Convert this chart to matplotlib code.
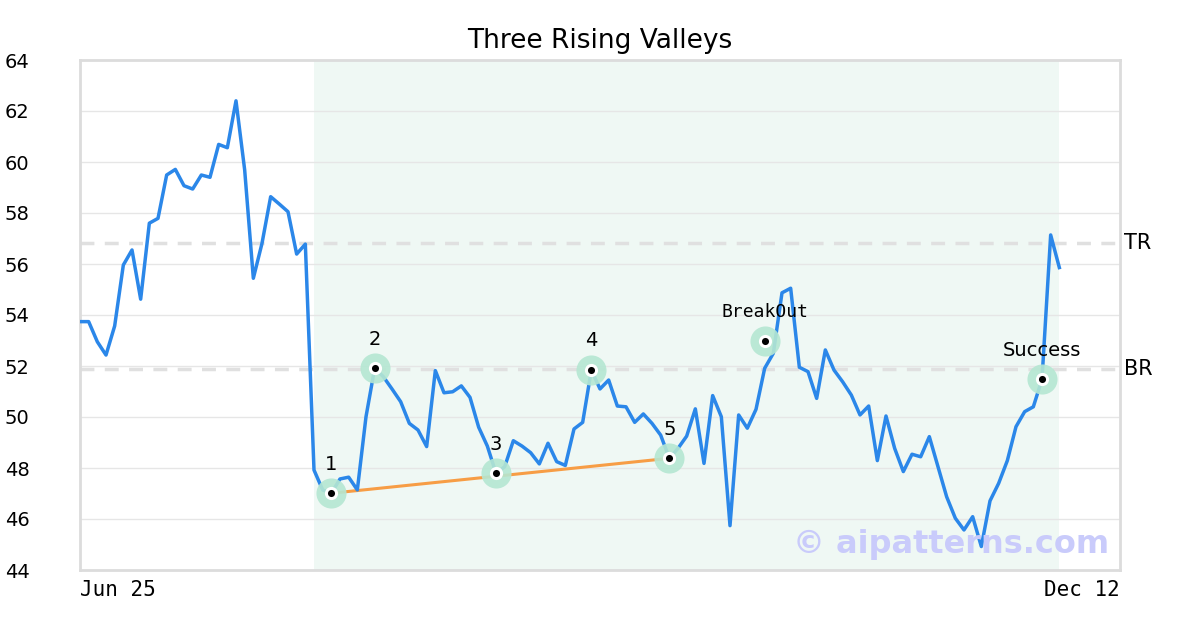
import matplotlib.pyplot as plt

# closing prices, one per trading day
prices = [
    53.74, 53.74, 52.95, 52.43, 53.57, 55.96, 56.55, 54.62, 57.60, 57.79,
    59.49, 59.71, 59.07, 58.94, 59.49, 59.40, 60.69, 60.56, 62.40, 59.69,
    55.44, 56.81, 58.64, 58.35, 58.05, 56.39, 56.78, 47.92, 47.14, 47.01,
    47.57, 47.64, 47.14, 50.01, 51.91, 51.58, 51.10, 50.60, 49.75, 49.49,
    48.84, 51.82, 50.95, 50.99, 51.22, 50.77, 49.60, 48.86, 47.79, 48.05,
    49.07, 48.86, 48.60, 48.16, 48.97, 48.25, 48.10, 49.53, 49.79, 51.84,
    51.10, 51.45, 50.43, 50.40, 49.79, 50.12, 49.75, 49.29, 48.38, 48.77,
    49.25, 50.32, 48.18, 50.84, 50.01, 45.74, 50.08, 49.56, 50.30, 51.91,
    52.50, 54.87, 55.05, 51.95, 51.78, 50.73, 52.63, 51.84, 51.38, 50.86,
    50.08, 50.43, 48.29, 50.04, 48.77, 47.86, 48.54, 48.44, 49.23, 48.05,
    46.87, 46.03, 45.57, 46.09, 44.92, 46.71, 47.40, 48.29, 49.62, 50.21,
    50.40, 51.48, 57.14, 55.86,
]
date_labels = ['Jun 25', 'Dec 12']

pattern_start = 27
pattern_end = 113

# pattern points (index, value, label)
point_idx = [29, 34, 48, 59, 68]
point_val = [47.01, 51.91, 47.79, 51.84, 48.38]
point_lbl = ['1', '2', '3', '4', '5']
event_idx = [79, 111]
event_val = [52.98, 51.48]
event_lbl = ['BreakOut', 'Success']

tr_level = 56.82
br_level = 51.90

fig = plt.figure(figsize=(12, 6.3), dpi=100)
ax = fig.add_axes([80 / 1200, 60 / 630, 1040 / 1200, 510 / 630])

x = list(range(len(prices)))
ax.axvspan(pattern_start, pattern_end, color='#eff8f4', zorder=0, lw=0)

for v in range(44, 65, 2):
    ax.axhline(v, color='#e6e6e6', lw=1, zorder=1)
ax.axhline(tr_level, color='#e0e0e0', lw=2.5, ls=(0, (4, 3)), zorder=1)
ax.axhline(br_level, color='#e0e0e0', lw=2.5, ls=(0, (4, 3)), zorder=1)

ax.plot(x, prices, color='#2b87e9', lw=2.5, zorder=3)
ax.plot([point_idx[0], point_idx[-1]], [point_val[0], point_val[-1]],
        color='#f79d45', lw=2.2, zorder=2)

all_idx = point_idx + event_idx
all_val = point_val + event_val
ax.scatter(all_idx, all_val, s=470, color='#b5e7d2', lw=0, zorder=4, alpha=0.9)
ax.scatter(all_idx, all_val, s=90, color='white', lw=0, zorder=5)
ax.scatter(all_idx, all_val, s=26, color='black', lw=0, zorder=6)
for i, v, t in zip(point_idx, point_val, point_lbl):
    ax.annotate(t, (i, v), xytext=(0, 21), textcoords='offset points',
                ha='center', va='center', fontsize=14, zorder=7)
ax.annotate(event_lbl[0], (event_idx[0], event_val[0]), xytext=(0, 21),
            textcoords='offset points', ha='center', va='center',
            fontsize=13, family='DejaVu Sans Mono', zorder=7)
ax.annotate(event_lbl[1], (event_idx[1], event_val[1]), xytext=(0, 21),
            textcoords='offset points', ha='center', va='center',
            fontsize=14, zorder=7)

ax.text(1.004, tr_level, 'TR', transform=ax.get_yaxis_transform(),
        ha='left', va='center', fontsize=15)
ax.text(1.004, br_level, 'BR', transform=ax.get_yaxis_transform(),
        ha='left', va='center', fontsize=15)

ax.text(0.99, 0.05, '\u00a9 aipatterns.com', transform=ax.transAxes,
        ha='right', va='center', fontsize=23, fontweight='bold',
        color='#c9cbfb', zorder=8)

ax.set_xlim(0, 120)
ax.set_ylim(44, 64)
ax.set_yticks(range(44, 65, 2))
ax.set_yticklabels([str(v) for v in range(44, 65, 2)], fontsize=14)
ax.set_xticks([0, 120])
ax.set_xticklabels(date_labels, family='DejaVu Sans Mono', fontsize=15)
xl = ax.get_xticklabels()
xl[0].set_ha('left')
xl[1].set_ha('right')
ax.tick_params(length=0, pad=7)
ax.tick_params(axis='y', pad=54)
for lab in ax.get_yticklabels():
    lab.set_ha('left')

for s in ax.spines.values():
    s.set_color('#dcdcdc')
    s.set_linewidth(2)

ax.set_title('Three Rising Valleys', fontsize=19, pad=9)

fig.savefig('out.png', dpi=100)
